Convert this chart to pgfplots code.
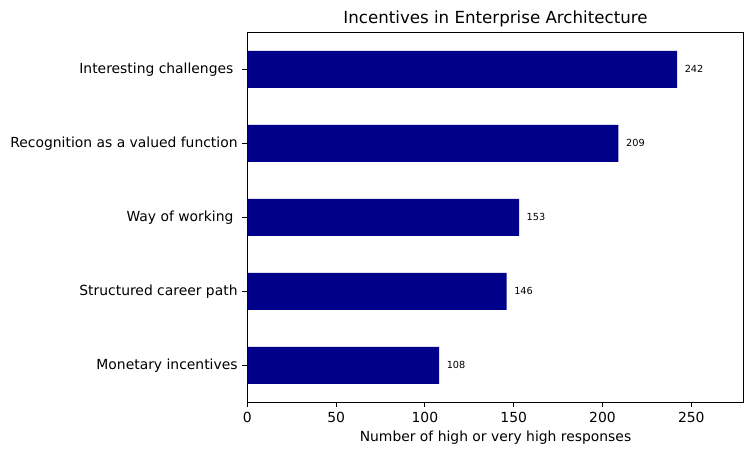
\documentclass[border=0pt]{standalone}
\usepackage{pgfplots}
\pgfplotsset{compat=1.18}
\usepackage{fontspec}
\setmainfont{DejaVu Sans}
\definecolor{navy}{RGB}{0,0,139}
\begin{document}
\begin{tikzpicture}
\path[use as bounding box] (-178.1pt,-37.9pt) rectangle (363.4pt,289.7pt);
\begin{axis}[
  at={(0,0)}, anchor=south west,
  scale only axis, width=357.4pt, height=266.4pt,
  xmin=0, xmax=279.5, ymin=-0.5, ymax=4.5,
  xtick={0,50,100,150,200,250},
  ytick={0,1,2,3,4},
  yticklabels={Monetary incentives, Structured career path, {Way of working\kern3pt}, Recognition as a valued function, {Interesting challenges\kern3pt}},
  tick align=outside, tick pos=left,
  major tick length=3.5pt,
  tick style={black, line width=0.6pt},
  axis line style={line width=0.6pt},
  ticklabel style={font=\fontsize{10}{12}\selectfont},
  /pgf/number format/assume math mode=true,
  title={Incentives in Enterprise Architecture},
  title style={font=\fontsize{12}{14}\selectfont, yshift=-5.6pt},
  xlabel={Number of high or very high responses},
  xlabel style={font=\fontsize{10}{12}\selectfont, yshift=0.6pt},
  clip=false,
]
\addplot[xbar, bar width=0.5, fill=navy, draw=none,
  nodes near coords, point meta=explicit symbolic,
  every node near coord/.append style={font=\fontsize{7}{8}\selectfont, anchor=west, xshift=2pt, black}]
  coordinates {(108,0)[108] (146,1)[146] (153,2)[153] (209,3)[209] (242,4)[242]};
\end{axis}
\end{tikzpicture}
\end{document}
